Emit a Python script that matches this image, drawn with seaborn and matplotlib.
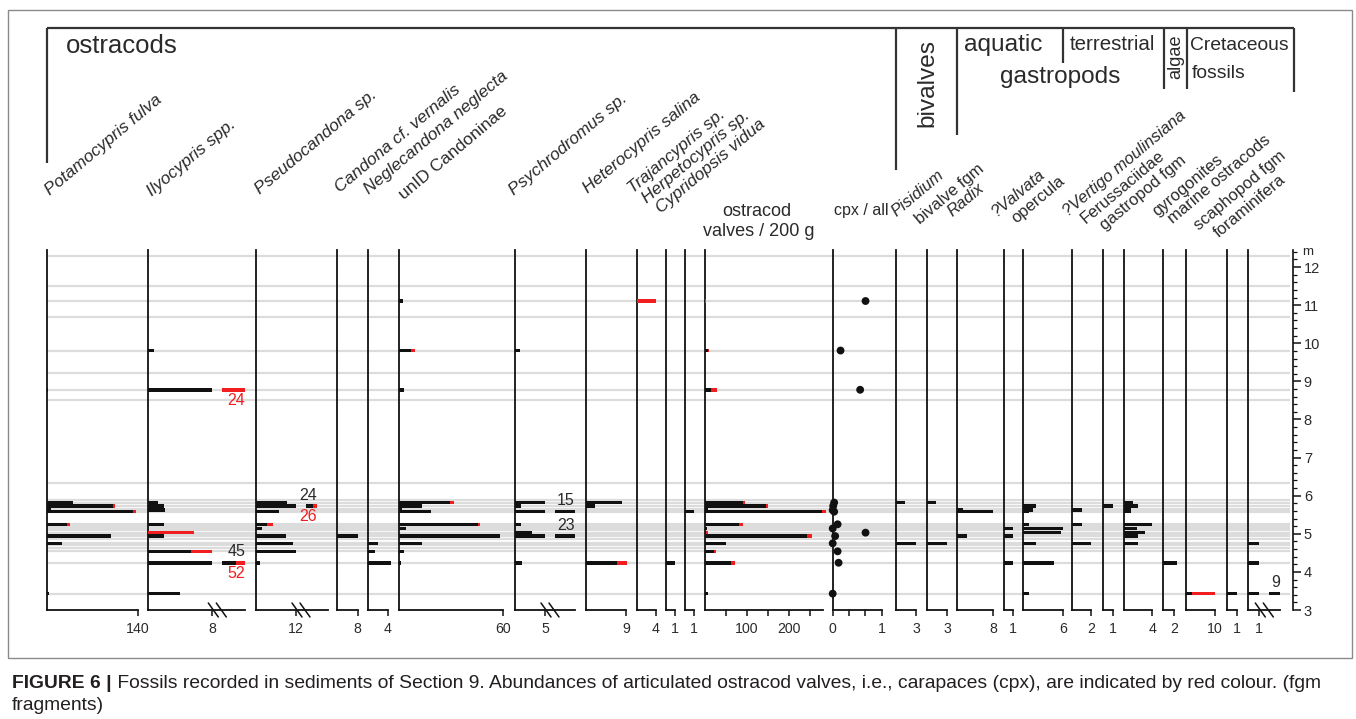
import matplotlib
matplotlib.use("Agg")
import matplotlib.pyplot as plt
from matplotlib.lines import Line2D
from matplotlib.patches import Rectangle
import numpy as np
import pandas as pd
import seaborn as sns

# ---------------------------------------------------------------- data
# horizons (m) that yielded fossils; every count list below follows this order
depth_m = [11.11, 9.81, 8.78, 5.82, 5.73, 5.62, 5.58, 5.25, 5.14, 5.03, 4.94, 4.75, 4.54, 4.24, 3.43]
# horizons sampled without finds
barren_m = [12.30, 11.50, 10.70, 9.21, 8.51, 6.33, 5.89, 5.66, 5.20, 5.09, 4.98, 4.86, 4.70, 4.63]

# ostracods: single valves (black) and carapaces (red, *_cpx)
potamocypris_fulva      = [0, 0, 1, 40, 101, 6, 132, 31, 0, 0, 98, 23.5, 0, 0, 3]
potamocypris_fulva_cpx  = [0, 0, 0, 0, 3, 0, 5, 5, 0, 0, 0, 0, 0, 0, 0]
ilyocypris_spp          = [0, 0.8, 8, 1.3, 2, 2.2, 0, 2, 0, 0, 2, 0, 5.4, 45, 4]
ilyocypris_spp_cpx      = [0, 0, 16, 0, 0, 0, 0, 0, 0, 5.7, 0, 0, 2.6, 7, 0]
pseudocandona_sp        = [0, 0, 0, 9.4, 24, 0, 7, 3.2, 1.7, 0, 9, 11, 12, 1.2, 0]
pseudocandona_sp_cpx    = [0, 0, 0, 0, 2, 0, 0, 1.8, 0, 0, 0, 0, 0, 0, 0]
candona_vernalis        = [0, 0, 0, 0, 0, 0, 0, 0, 0, 0, 8, 0, 0, 0, 0]
neglecandona_neglecta   = [0, 0, 0, 0, 0, 0, 0, 0, 0, 0, 0, 2, 1.4, 4.6, 0]
unid_candoninae         = [2.5, 7, 3, 29.4, 13, 1.5, 18.3, 45.4, 4, 0, 58.3, 13, 2.9, 1.3, 0]
unid_candoninae_cpx     = [0, 2, 0, 2.5, 0, 0, 0, 1.3, 0, 0, 0, 0, 0, 0, 0]
psychrodromus_sp        = [0, 0.9, 0, 5, 1, 0, 15, 1, 0, 2.8, 23, 0, 0, 1.1, 0]
heterocypris_salina     = [0, 0, 0, 8, 2, 0, 0, 0, 0, 0, 0, 0, 0, 7, 0]
heterocypris_salina_cpx = [0, 0, 0, 0, 0, 0, 0, 0, 0, 0, 0, 0, 0, 2.3, 0]
trajancypris_sp         = [0, 0, 0, 0, 0, 0, 0, 0, 0, 0, 0, 0, 0, 0, 0]
trajancypris_sp_cpx     = [4, 0, 0, 0, 0, 0, 0, 0, 0, 0, 0, 0, 0, 0, 0]
herpetocypris_sp        = [0, 0, 0, 0, 0, 0, 0, 0, 0, 0, 0, 0, 0, 1, 0]
cypridopsis_vidua       = [0, 0, 0, 0, 0, 0, 1, 0, 0, 0, 0, 0, 0, 0, 0]
valves_per_200g         = [0, 7, 14, 92, 146, 9, 279, 82, 5, 4, 243, 50, 22, 63, 8]
valves_per_200g_cpx     = [4, 3, 15, 5, 4, 0, 11, 8, 0, 4, 13, 0, 4, 9, 0]
cpx_share               = [0.67, 0.16, 0.56, 0.03, 0.01, 0.0, 0.03, 0.10, 0.0, 0.67, 0.05, 0.0, 0.10, 0.12, 0.0]

# molluscs, algae and reworked Cretaceous fossils
pisidium          = [0, 0, 0, 1.35, 0, 0, 0, 0, 0, 0, 0, 3, 0, 0, 0]
bivalve_fgm       = [0, 0, 0, 1.3, 0, 0, 0, 0, 0, 0, 0, 3, 0, 0, 0]
radix             = [0, 0, 0, 0, 0, 1.3, 8, 0, 0, 0, 2.2, 0, 0, 0, 0]
valvata           = [0, 0, 0, 0, 0, 0, 0, 0, 1, 0, 1, 0, 0, 1, 0]
valvata_opercula  = [0, 0, 0, 0, 2, 1.5, 1, 1, 5.9, 5.6, 0, 2, 0, 4.6, 1]
vertigo           = [0, 0, 0, 0, 0, 1, 0, 1, 0, 0, 0, 2, 0, 0, 0]
ferussaciidae     = [0, 0, 0, 0, 1, 0, 0, 0, 0, 0, 0, 0, 0, 0, 0]
gastropod_fgm     = [0, 0, 0, 1.3, 2, 1, 1, 4, 1.8, 2.9, 2, 2, 0, 0, 0]
gyrogonites       = [0, 0, 0, 0, 0, 0, 0, 0, 0, 0, 0, 0, 0, 2.5, 0]
marine_ostracods  = [0, 0, 0, 0, 0, 0, 0, 0, 0, 0, 0, 0, 0, 0, 2]
marine_ostracods_cpx = [0, 0, 0, 0, 0, 0, 0, 0, 0, 0, 0, 0, 0, 0, 8]
scaphopod_fgm     = [0, 0, 0, 0, 0, 0, 0, 0, 0, 0, 0, 0, 0, 0, 1]
foraminifera      = [0, 0, 0, 0, 0, 0, 0, 0, 0, 0, 0, 1, 0, 1, 9]

no_cpx = [0] * len(depth_m)

panel_labels = ["Potamocypris fulva", "Ilyocypris spp.", "Pseudocandona sp.",
                "Candona cf. vernalis", "Neglecandona neglecta", "unID Candoninae",
                "Psychrodromus sp.", "Heterocypris salina", "Trajancypris sp.",
                "Herpetocypris sp.", "Cypridopsis vidua", "ostracod\nvalves / 200 g",
                "cpx / all", "Pisidium", "bivalve fgm", "Radix", "?Valvata", "opercula",
                "?Vertigo moulinsiana", "Ferussaciidae", "gastropod fgm", "gyrogonites",
                "marine ostracods", "scaphopod fgm", "foraminifera"]
panel_black = [potamocypris_fulva, ilyocypris_spp, pseudocandona_sp, candona_vernalis,
               neglecandona_neglecta, unid_candoninae, psychrodromus_sp, heterocypris_salina,
               trajancypris_sp, herpetocypris_sp, cypridopsis_vidua, valves_per_200g,
               cpx_share, pisidium, bivalve_fgm, radix, valvata, valvata_opercula, vertigo,
               ferussaciidae, gastropod_fgm, gyrogonites, marine_ostracods, scaphopod_fgm,
               foraminifera]
panel_red = [potamocypris_fulva_cpx, ilyocypris_spp_cpx, pseudocandona_sp_cpx, no_cpx, no_cpx,
             unid_candoninae_cpx, no_cpx, heterocypris_salina_cpx, trajancypris_sp_cpx, no_cpx,
             no_cpx, valves_per_200g_cpx, no_cpx, no_cpx, no_cpx, no_cpx, no_cpx, no_cpx, no_cpx,
             no_cpx, no_cpx, no_cpx, marine_ostracods_cpx, no_cpx, no_cpx]
scale_max = [140, 8, 12, 8, 4, 60, 5, 9, 4, 1, 1, 100, 1, 3, 3, 8, 1, 6, 2, 1, 4, 2, 10, 1, 1]

# ---------------------------------------------------------------- layout (pixels)
W, H = 1356, 719
panel_left = [47, 147.7, 256, 337.3, 368.3, 399, 515, 586, 636.6, 665.5, 684.5, 704.7,
              832.7, 896, 927.3, 956.7, 1004, 1022.7, 1072.3, 1103.3, 1124.3, 1162.7,
              1185.7, 1226.7, 1248.3]
scale_px = [138, 212.3, 296, 357.7, 387.7, 503, 545, 626, 656, 675, 694, 746.7,
            881.7, 916, 947.3, 993.3, 1013.3, 1063.3, 1090.7, 1112.7, 1152.3, 1174,
            1215, 1236.7, 1259.3]
panel_right = [138, 245, 328, 357.7, 387.7, 503, 575, 626, 656, 675, 694, 822.7,
               881.7, 916, 947.3, 993.3, 1013.3, 1063.3, 1090.7, 1112.7, 1152.3, 1174,
               1215, 1236.7, 1280]
overflow_end = {1: 245, 2: 317, 6: 575, 24: 1280}
label_anchor = [(50, 196), (152, 197), (260, 195), (340, 193), (369, 195), (404, 200),
                (514, 196), (588, 194), (633, 194), (647, 204), (661, 214), None, None,
                (896, 217), (920, 225), (952, 217), (997, 217), (1016, 224), (1068, 217),
                (1086, 224), (1105, 231), (1157, 217), (1173, 224), (1199, 231), (1219, 238)]
upright = {"unID Candoninae", "bivalve fgm", "opercula", "Ferussaciidae", "gastropod fgm",
           "gyrogonites", "marine ostracods", "scaphopod fgm", "foraminifera"}

TOP, BOT = 250, 610
PX_PER_M = 38.1
D0, D1 = 3.0, 3.0 + (BOT - TOP) / PX_PER_M
BAR_H = 3.5 / PX_PER_M
BLACK, RED, GREY, INK = "#111111", "#f01e1e", "#dcdcdc", "#2a2a2a"
ROT = 40

# ---------------------------------------------------------------- style
sns.set_theme(style="white")
plt.rcParams["font.family"] = ["Liberation Sans", "DejaVu Sans"]

fig = plt.figure(figsize=(W / 100, H / 100), dpi=100)
fig.patch.set_facecolor("white")


def fx(x):
    return x / W


def fy(y):
    return 1 - y / H


def fline(xs, ys, **kw):
    fig.add_artist(Line2D([fx(x) for x in xs], [fy(y) for y in ys],
                          transform=fig.transFigure, **kw))


def ftext(x, y, s, **kw):
    return fig.text(fx(x), fy(y), s, **kw)


# outer frame
fig.add_artist(Rectangle((fx(8), fy(658)), fx(1352) - fx(8), fy(10) - fy(658),
                         transform=fig.transFigure, fill=False, edgecolor="#8a8a8a", lw=1))

# sampled horizons as faint guide lines across all panels
bg = fig.add_axes([fx(47), fy(BOT), fx(1290) - fx(47), (BOT - TOP) / H])
bg.set_xlim(0, 1)
bg.set_ylim(D0, D1)
bg.axis("off")
bg.hlines(sorted(depth_m + barren_m), 0, 1, color=GREY, lw=1.6, zorder=0)

# ---------------------------------------------------------------- panels
for i, label in enumerate(panel_labels):
    x0, smax, spx, x1 = panel_left[i], scale_max[i], scale_px[i], panel_right[i]
    ppu = (spx - x0) / smax
    ax = fig.add_axes([fx(x0), fy(BOT), (x1 - x0) / W, (BOT - TOP) / H])
    ax.patch.set_alpha(0)
    ax.set_xlim(0, (x1 - x0) / ppu)
    ax.set_ylim(D0, D1)
    ax.grid(False)
    for s in ("top", "right"):
        ax.spines[s].set_visible(False)
    for s in ("left", "bottom"):
        ax.spines[s].set_color(BLACK)
        ax.spines[s].set_linewidth(1.3)
    ax.set_yticks([])
    ax.tick_params(axis="x", direction="out", length=4.5, width=1.1, color=BLACK,
                   pad=4, labelsize=10.2, labelcolor=INK, bottom=True)

    if label.startswith("ostracod"):
        ax.set_xticks([50, 100, 150, 200, 250], ["", "100", "", "200", ""])
    elif label == "cpx / all":
        ax.set_xticks([0, 1 / 3, 2 / 3, 1], ["0", "", "", "1"])
    else:
        ax.set_xticks([smax], [f"{smax:g}"])

    if label == "cpx / all":
        df = pd.DataFrame({"depth": depth_m, "share": cpx_share})
        sns.scatterplot(data=df, x="share", y="depth", ax=ax, color=BLACK, s=32,
                        edgecolor="none", clip_on=False, legend=False, zorder=4)
        ax.set_xlabel("")
        ax.set_ylabel("")
        ftext((x0 + x1) / 2 + 4, 211, label, ha="center", va="center",
              fontsize=11.5, color=INK)
        continue

    df = pd.DataFrame({"depth": depth_m, "black": panel_black[i], "red": panel_red[i]})
    broken = i in overflow_end
    if broken:
        df["b_draw"] = np.minimum(df["black"], smax)
        df["r_draw"] = np.minimum(df["black"] + df["red"], smax) - df["b_draw"]
    else:
        df["b_draw"] = df["black"]
        df["r_draw"] = df["red"]
    b = df[df["b_draw"] > 0]
    ax.barh(b["depth"], b["b_draw"], height=BAR_H, color=BLACK, lw=0, clip_on=False, zorder=3)
    r = df[df["r_draw"] > 0]
    ax.barh(r["depth"], r["r_draw"], left=r["b_draw"], height=BAR_H, color=RED, lw=0,
            clip_on=False, zorder=3)

    if broken:
        # broken scale: values beyond the scale continue after the break marks
        s0 = (spx + 10 - x0) / ppu
        s1 = (overflow_end[i] - x0) / ppu
        for _, row in df.iterrows():
            tot = row["black"] + row["red"]
            if tot <= smax:
                continue
            over_b = row["black"] > smax
            over_r = row["red"] > 0
            frac = 0.6 if (over_b and over_r) else (1.0 if over_b else 0.0)
            mid = s0 + (s1 - s0) * frac
            if over_b:
                ax.barh(row["depth"], mid - s0, left=s0, height=BAR_H, color=BLACK, lw=0,
                        clip_on=False, zorder=3)
                ax.annotate(f"{row['black']:g}", (s1, row["depth"]), xytext=(0, 2.5),
                            textcoords="offset points", ha="right", va="bottom",
                            fontsize=11.5, color=INK, annotation_clip=False)
            if over_r:
                ax.barh(row["depth"], s1 - mid, left=mid, height=BAR_H, color=RED, lw=0,
                        clip_on=False, zorder=3)
                ax.annotate(f"{tot:g}", (s1, row["depth"]), xytext=(0, -2.5),
                            textcoords="offset points", ha="right", va="top",
                            fontsize=11.5, color=RED, annotation_clip=False)
        for cx in (spx + 1, spx + 9):
            fline([cx - 5, cx + 5], [BOT - 7, BOT + 7], color=BLACK, lw=1.1)

    if label.startswith("ostracod"):
        ftext(757, 211, "ostracod", ha="center", va="center", fontsize=13, color=INK)
        ftext(759, 232, "valves / 200 g", ha="center", va="center", fontsize=13, color=INK)
    else:
        ax_, ay_ = label_anchor[i]
        ftext(ax_, ay_, label, rotation=ROT, rotation_mode="anchor", ha="left",
              va="baseline", fontsize=12.5 if i < 11 else 12, color=INK,
              style="normal" if label in upright else "italic")

# ---------------------------------------------------------------- depth scale
axd = fig.add_axes([fx(1293), fy(BOT), 0.4 / W, (BOT - TOP) / H])
axd.patch.set_alpha(0)
axd.set_ylim(D0, D1)
axd.set_xticks([])
for s in ("top", "bottom", "left"):
    axd.spines[s].set_visible(False)
axd.spines["right"].set_color(BLACK)
axd.spines["right"].set_linewidth(1.2)
axd.yaxis.tick_right()
axd.set_yticks(range(3, 13))
axd.set_yticks(np.arange(3.0, 12.41, 0.2), minor=True)
axd.tick_params(axis="y", which="major", direction="out", length=5.5, width=1.1,
                color=BLACK, pad=2, labelsize=10.5, labelcolor=INK)
axd.tick_params(axis="y", which="minor", direction="out", length=3, width=0.9, color=BLACK)
ftext(1302, 252, "m", ha="left", va="center", fontsize=9.5, color=INK)

# ---------------------------------------------------------------- group headers
HL = dict(color="#333333", lw=1.6, solid_capstyle="butt")
fline([47, 1294], [28, 28], **HL)
fline([47, 47], [28, 163], **HL)
fline([896.4, 896.4], [28, 170], **HL)
fline([957, 957], [28, 135], **HL)
fline([1063, 1063], [28, 63], **HL)
fline([1164, 1164], [28, 89], **HL)
fline([1187, 1187], [28, 89], **HL)
fline([1294, 1294], [28, 92], **HL)

ftext(66, 46, "ostracods", ha="left", va="center", fontsize=18.5, color=INK)
ftext(927, 83, "bivalves", ha="center", va="center", rotation=90, fontsize=17.6, color=INK)
ftext(1003, 45, "aquatic", ha="center", va="center", fontsize=17.6, color=INK)
ftext(1112, 45, "terrestrial", ha="center", va="center", fontsize=14.8, color=INK)
ftext(1060, 77, "gastropods", ha="center", va="center", fontsize=17.6, color=INK)
ftext(1176, 57, "algae", ha="center", va="center", rotation=90, fontsize=13.1, color=INK)
ftext(1190, 45, "Cretaceous", ha="left", va="center", fontsize=13.9, color=INK)
ftext(1192, 73, "fossils", ha="left", va="center", fontsize=13.9, color=INK)

# ---------------------------------------------------------------- caption
cap_kw = dict(family=["Liberation Sans", "DejaVu Sans"], color="#231f20", va="center")
cap_size = 12
t_bold = ftext(12, 684, "FIGURE 6 |", fontsize=cap_size, fontweight="bold", **cap_kw)
t_rest = ftext(12, 684, " Fossils recorded in sediments of Section 9. Abundances of articulated "
               "ostracod valves, i.e., carapaces (cpx), are indicated by red colour. (fgm",
               fontsize=cap_size, **cap_kw)
t_two = ftext(12, 706, "fragments)", fontsize=cap_size, **cap_kw)
fig.canvas.draw()
rend = fig.canvas.get_renderer()
wb = t_bold.get_window_extent(rend).width
wr = t_rest.get_window_extent(rend).width
k = 1315 / (wb + wr)
for t in (t_bold, t_rest, t_two):
    t.set_fontsize(cap_size * k)
t_rest.set_x(fx(12 + wb * k))

fig.savefig("out.png", dpi=100, facecolor="white")
